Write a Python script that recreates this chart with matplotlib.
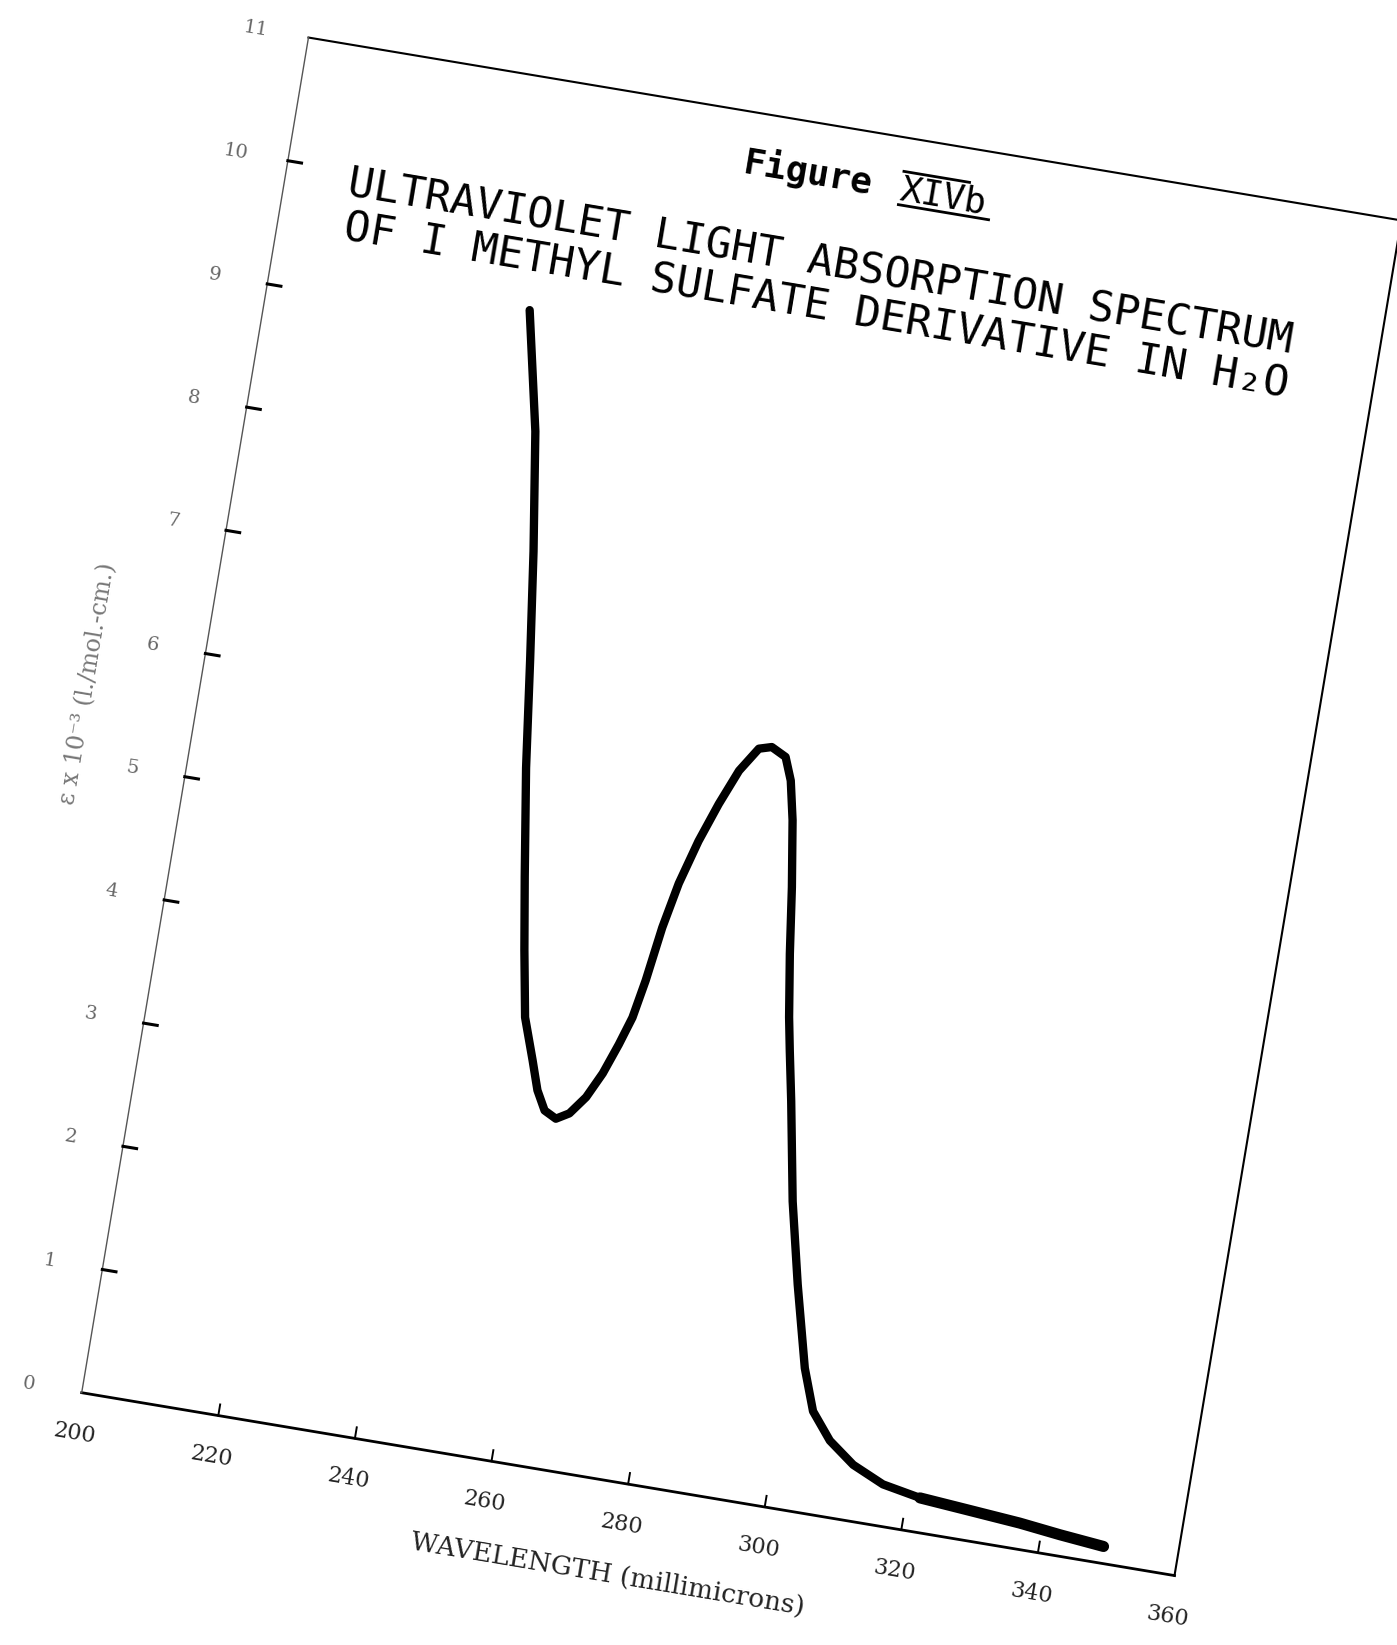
import matplotlib
matplotlib.use('Agg')
import matplotlib.pyplot as plt
from matplotlib.transforms import Affine2D

# curve (wavelength in millimicrons, epsilon x 10^-3)
wavelength = [238.0, 241.7, 244.3, 246.4, 248.4, 250.8, 252.5, 254.2, 256.3,
              257.7, 259.2, 261.0, 262.8, 264.8, 266.6, 268.2, 269.5, 270.5,
              271.6, 272.9, 274.7, 276.7, 278.8, 281.1, 282.9, 285.1, 286.4,
              287.6, 289.1, 290.4, 291.8, 292.7, 294.1, 296.7, 299.4, 302.4,
              304.6, 307.7, 311.6, 316.3, 321.9, 328.8, 336.7, 342.7, 349.2]
epsilon = [9.14, 8.19, 7.24, 6.38, 5.52, 4.66, 4.08, 3.55, 3.22,
           2.99, 2.84, 2.79, 2.85, 3.00, 3.21, 3.46, 3.69, 4.00,
           4.44, 4.81, 5.17, 5.49, 5.78, 5.98, 6.01, 5.95, 5.77,
           5.46, 4.93, 4.40, 3.90, 3.635, 3.24, 2.45, 1.80, 1.15,
           0.82, 0.61, 0.45, 0.335, 0.277, 0.246, 0.210, 0.171, 0.136]

x_ticks = [200, 220, 240, 260, 280, 300, 320, 340, 360]
y_ticks = [0, 1, 2, 3, 4, 5, 6, 7, 8, 9, 10, 11]

title_1 = 'ULTRAVIOLET LIGHT ABSORPTION SPECTRUM'
title_2 = 'OF I METHYL SULFATE DERIVATIVE IN H₂O'

W, H = 1397, 1645
fig = plt.figure(figsize=(W / 100, H / 100), dpi=100)
fig.patch.set_facecolor('white')

# the scanned sheet is tilted, so the whole plot is rotated about the origin
ox, oy = 81.7, H - 1392.7
ax = fig.add_axes([ox / W, oy / H, 1108 / W, 1374 / H])
ax.set_xlim(200, 360)
ax.set_ylim(0, 11)
ax.axis('off')
tilt = -9.5
tr = ax.transData + Affine2D().rotate_deg_around(ox, oy, tilt)

# frame
ax.plot([200, 360], [0, 0], color='black', lw=2.0, transform=tr, clip_on=False)
ax.plot([360, 360, 200], [0, 11, 11], color='black', lw=1.5, transform=tr, clip_on=False)
ax.plot([200, 200], [0, 11], color='#555555', lw=1.0, transform=tr, clip_on=False)

# ticks
for x in x_ticks[1:-1]:
    ax.plot([x, x], [0, 0.09], color='black', lw=1.4, transform=tr, clip_on=False)
for y in y_ticks[1:-1]:
    ax.plot([200, 202.0], [y, y], color='black', lw=2.2, transform=tr, clip_on=False)

for x in x_ticks:
    ax.text(x, -0.33, str(x), transform=tr, rotation=tilt, rotation_mode='anchor',
            ha='center', va='center', family='DejaVu Serif', fontsize=16, color='#222222')
for y in y_ticks:
    ax.text(192.3, y, str(y), transform=tr, rotation=tilt, rotation_mode='anchor',
            ha='center', va='center', family='DejaVu Serif', fontsize=14, color='#666666')

ax.text(279.3, -0.74, 'WAVELENGTH (millimicrons)', transform=tr, rotation=tilt,
        rotation_mode='anchor', ha='center', va='center', family='DejaVu Serif',
        fontsize=19, color='#222222')
ax.text(184.0, 5.61, 'ε x 10⁻³ (l./mol.-cm.)', transform=tr, rotation=90 + tilt,
        rotation_mode='anchor', ha='center', va='center', family='DejaVu Serif',
        fontsize=17, color='#777777')

# titles
ax.text(265, 10.5, 'Figure', transform=tr, rotation=tilt, rotation_mode='anchor',
        ha='left', va='baseline', family='DejaVu Sans Mono', fontweight='bold',
        fontsize=26, color='black')
ax.text(288, 10.5, 'XIVb', transform=tr, rotation=tilt, rotation_mode='anchor',
        ha='left', va='baseline', family='DejaVu Sans Mono', fontsize=26, color='black')
ax.plot([288, 301.2], [10.46, 10.46], color='black', lw=2, transform=tr, clip_on=False)
ax.plot([288, 297.6], [10.73, 10.73], color='black', lw=2, transform=tr, clip_on=False)

ax.text(209.2, 9.8, title_1, transform=tr, rotation=tilt, rotation_mode='anchor',
        ha='left', va='baseline', family='DejaVu Sans Mono', fontsize=31, color='black')
ax.text(209.6, 9.45, title_2, transform=tr, rotation=tilt, rotation_mode='anchor',
        ha='left', va='baseline', family='DejaVu Sans Mono', fontsize=31, color='black')

# spectrum
ax.plot(wavelength, epsilon, color='black', lw=6, transform=tr, clip_on=False,
        solid_joinstyle='round', solid_capstyle='round')
ax.plot(wavelength[-5:], epsilon[-5:], color='black', lw=8, transform=tr, clip_on=False,
        solid_joinstyle='round', solid_capstyle='round')

fig.savefig('out.png', dpi=100, facecolor='white')
